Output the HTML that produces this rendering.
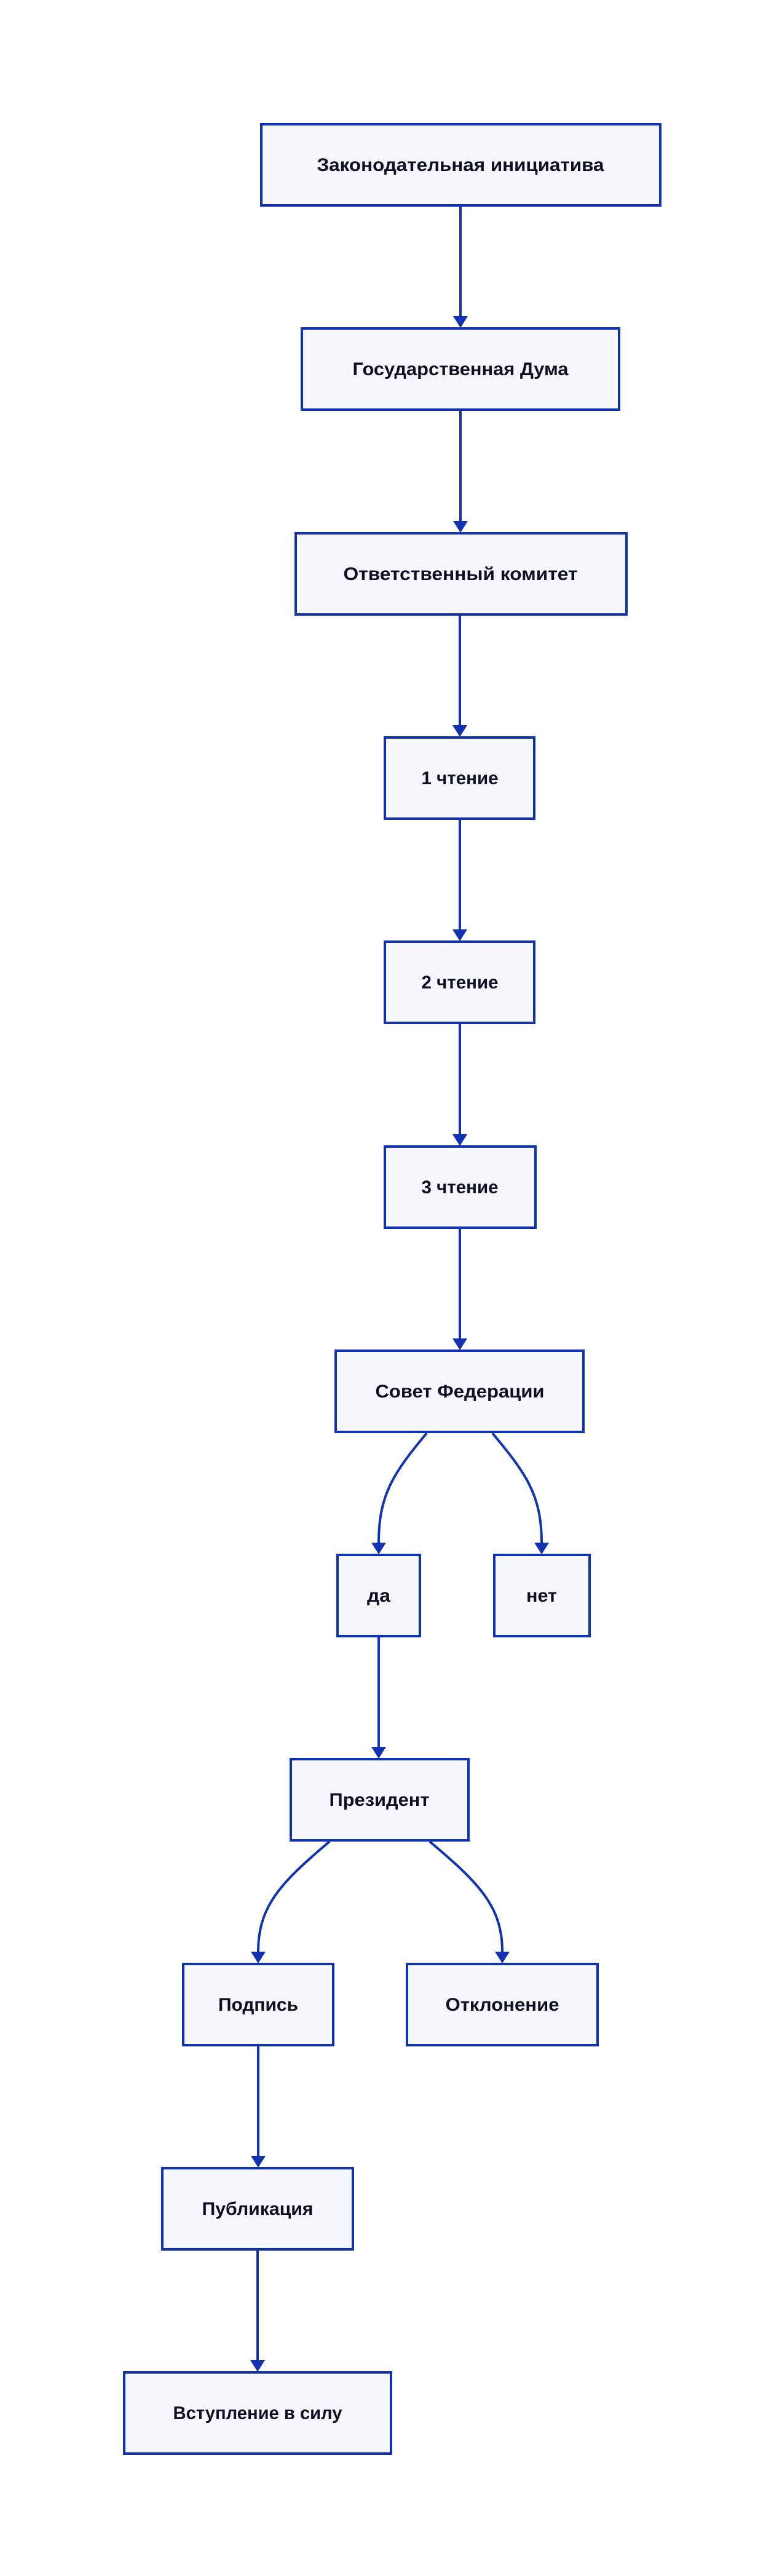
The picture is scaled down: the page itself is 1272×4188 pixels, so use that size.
<!DOCTYPE html>
<html><head><meta charset="utf-8"><style>
html,body{margin:0;padding:0;background:#fff;}
svg{display:block;}
text{font-family:"Liberation Sans","DejaVu Sans",sans-serif;font-weight:bold;font-size:30px;fill:#0f0f23;text-anchor:middle;}
rect{fill:#f5f7fd;stroke:#1133b3;stroke-width:4;}
path.e{fill:none;stroke:#1133b3;stroke-width:4;}
polygon{fill:#1133b3;}
</style></head><body>
<svg width="1272" height="4188" viewBox="0 0 1272 4188" xmlns="http://www.w3.org/2000/svg">
<rect x="425" y="202" width="649" height="132"/><text x="749" y="278" textLength="467" lengthAdjust="spacingAndGlyphs">Законодательная инициатива</text>
<rect x="491" y="534" width="516" height="132"/><text x="749" y="610" textLength="351" lengthAdjust="spacingAndGlyphs">Государственная Дума</text>
<rect x="481" y="867" width="538" height="132"/><text x="749" y="943" textLength="381" lengthAdjust="spacingAndGlyphs">Ответственный комитет</text>
<rect x="626" y="1199" width="243" height="132"/><text x="748" y="1275" textLength="125" lengthAdjust="spacingAndGlyphs">1 чтение</text>
<rect x="626" y="1531" width="243" height="132"/><text x="748" y="1607" textLength="125" lengthAdjust="spacingAndGlyphs">2 чтение</text>
<rect x="626" y="1864" width="245" height="132"/><text x="748" y="1940" textLength="125" lengthAdjust="spacingAndGlyphs">3 чтение</text>
<rect x="546" y="2196" width="403" height="132"/><text x="748" y="2272" textLength="275" lengthAdjust="spacingAndGlyphs">Совет Федерации</text>
<rect x="549" y="2528" width="134" height="132"/><text x="616" y="2604" textLength="38" lengthAdjust="spacingAndGlyphs">да</text>
<rect x="804" y="2528" width="155" height="132"/><text x="881" y="2604" textLength="50" lengthAdjust="spacingAndGlyphs">нет</text>
<rect x="473" y="2860" width="289" height="132"/><text x="617" y="2936" textLength="163" lengthAdjust="spacingAndGlyphs">Президент</text>
<rect x="298" y="3193" width="244" height="132"/><text x="420" y="3269" textLength="130" lengthAdjust="spacingAndGlyphs">Подпись</text>
<rect x="662" y="3193" width="310" height="132"/><text x="817" y="3269" textLength="185" lengthAdjust="spacingAndGlyphs">Отклонение</text>
<rect x="264" y="3525" width="310" height="132"/><text x="419" y="3601" textLength="181" lengthAdjust="spacingAndGlyphs">Публикация</text>
<rect x="202" y="3857" width="434" height="132"/><text x="419" y="3933" textLength="275" lengthAdjust="spacingAndGlyphs">Вступление в силу</text>

<path class="e" d="M749 336 V514"/><polygon points="737,514 761,514 749,533"/>
<path class="e" d="M749 668 V847"/><polygon points="737,847 761,847 749,866"/>
<path class="e" d="M748 1001 V1179"/><polygon points="736,1179 760,1179 748,1198"/>
<path class="e" d="M748 1333 V1511"/><polygon points="736,1511 760,1511 748,1530"/>
<path class="e" d="M748 1665 V1844"/><polygon points="736,1844 760,1844 748,1863"/>
<path class="e" d="M748 1998 V2176"/><polygon points="736,2176 760,2176 748,2195"/>
<path class="e" d="M616 2662 V2840"/><polygon points="604,2840 628,2840 616,2859"/>
<path class="e" d="M420 3327 V3505"/><polygon points="408,3505 432,3505 420,3524"/>
<path class="e" d="M419 3659 V3837"/><polygon points="407,3837 431,3837 419,3856"/>

<path class="e" d="M694 2330 C640 2395 616 2430 616 2508"/><polygon points="604,2508 628,2508 616,2527"/>
<path class="e" d="M801 2330 C855 2395 881 2430 881 2508"/><polygon points="869,2508 893,2508 881,2527"/>
<path class="e" d="M536 2994 C455 3062 420 3100 420 3173"/><polygon points="408,3173 432,3173 420,3192"/>
<path class="e" d="M699 2994 C780 3062 817 3100 817 3173"/><polygon points="805,3173 829,3173 817,3192"/>
</svg>
</body></html>
